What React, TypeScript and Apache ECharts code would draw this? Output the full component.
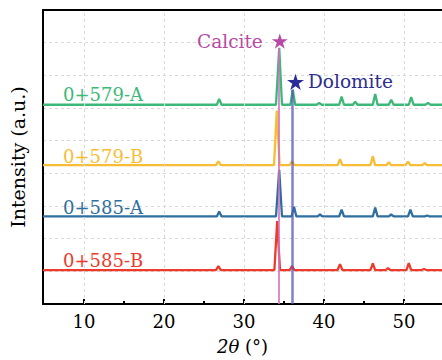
import React, { useEffect, useRef } from "react";
import * as echarts from "echarts";

const FONT = "DejaVu Serif";

const X_MIN = 4.875;
const X_MAX = 54.75;
const Y_MAX = 9;

const xTicks = [10, 20, 30, 40, 50];
const xMinorTicks = [15, 25, 35, 45];

const sampleNames = ["0+579-A", "0+579-B", "0+585-A", "0+585-B"];
const sampleColors = ["#3cb878", "#f8bd35", "#2f6f9f", "#ee3a2a"];
const sampleOffsets = [6.1, 4.25, 2.68, 1.04];
const labelY = [6.41, 4.53, 2.96, 1.33];
const labelX = 7.375;

// [2θ, relative intensity]
const green579A: number[][] = [
  [4.875, 0], [26.6, 0], [26.9, 0.18], [27.2, 0], [34.0, 0], [34.4, 1.74], [34.75, 0],
  [35.8, 0], [36.1, 0.46], [36.4, 0], [39.1, 0], [39.4, 0.06], [39.7, 0],
  [41.9, 0], [42.2, 0.25], [42.5, 0], [43.6, 0], [43.9, 0.09], [44.2, 0],
  [46.1, 0], [46.4, 0.33], [46.7, 0], [48.1, 0], [48.4, 0.15], [48.7, 0],
  [50.6, 0], [50.9, 0.23], [51.2, 0], [52.7, 0], [53.0, 0.06], [53.3, 0], [54.75, 0],
];
const yellow579B: number[][] = [
  [4.875, 0], [26.5, 0], [26.8, 0.12], [27.1, 0], [33.75, 0], [34.1, 1.67], [34.45, 0],
  [35.7, 0], [36.0, 0.12], [36.3, 0], [41.7, 0], [42.0, 0.18], [42.3, 0],
  [45.8, 0], [46.1, 0.27], [46.4, 0], [47.8, 0], [48.1, 0.09], [48.4, 0],
  [50.2, 0], [50.5, 0.11], [50.8, 0], [52.3, 0], [52.6, 0.06], [52.9, 0], [54.75, 0],
];
const blue585A: number[][] = [
  [4.875, 0], [26.6, 0], [26.9, 0.15], [27.2, 0], [34.0, 0], [34.4, 1.43], [34.75, 0],
  [35.95, 0], [36.25, 0.3], [36.55, 0], [39.2, 0], [39.5, 0.06], [39.8, 0],
  [41.9, 0], [42.2, 0.21], [42.5, 0], [46.1, 0], [46.4, 0.27], [46.7, 0],
  [48.1, 0], [48.4, 0.06], [48.7, 0], [50.5, 0], [50.8, 0.21], [51.1, 0],
  [52.6, 0], [52.9, 0.03], [53.2, 0], [54.75, 0],
];
const red585B: number[][] = [
  [4.875, 0], [26.5, 0], [26.8, 0.12], [27.1, 0], [33.8, 0], [34.15, 1.5], [34.5, 0],
  [35.7, 0], [36.0, 0.12], [36.3, 0], [41.7, 0], [42.0, 0.18], [42.3, 0],
  [45.8, 0], [46.1, 0.2], [46.4, 0], [47.7, 0], [48.0, 0.06], [48.3, 0],
  [50.3, 0], [50.6, 0.21], [50.9, 0], [52.2, 0], [52.5, 0.03], [52.8, 0], [54.75, 0],
];
const patterns = [green579A, yellow579B, blue585A, red585B];

const calcitePos = 34.375;
const calciteTop = 7.84;
const calciteStar = [34.475, 8.05];
const dolomitePos = 36.04;
const dolomiteTop = 6.56;
const dolomiteStar = [36.44, 6.8];

const STAR =
  "path://M50,0 L61.2,34.5 L97.6,34.5 L68.2,55.9 L79.4,90.5 L50,69.1 L20.6,90.5 L31.8,55.9 L2.4,34.5 L38.8,34.5 Z";

export default function App() {
  const ref = useRef<HTMLDivElement>(null);
  useEffect(() => {
    if (!ref.current) return;
    const chart = echarts.init(ref.current, null, { renderer: "svg" });
    const lineSeries = patterns.map((p, i) => ({
      type: "line",
      name: sampleNames[i],
      data: p.map((d) => [d[0], d[1] + sampleOffsets[i]]),
      showSymbol: false,
      symbol: "none",
      lineStyle: { color: sampleColors[i], width: 2.3 },
      z: 3,
      markPoint: {
        symbol: "circle",
        symbolSize: 0,
        silent: true,
        data: [{ coord: [labelX, labelY[i]], name: sampleNames[i] }],
        label: {
          show: true,
          position: "right",
          distance: 0,
          formatter: sampleNames[i],
          color: sampleColors[i],
          fontSize: 18,
          fontFamily: FONT,
        },
      },
    }));
    chart.setOption({
      animation: false,
      textStyle: { fontFamily: FONT },
      grid: { left: 43, right: 0, top: 10, bottom: 55, containLabel: false },
      xAxis: [
        {
          type: "value",
          min: X_MIN,
          max: X_MAX,
          position: "bottom",
          axisLine: { show: true, onZero: false, lineStyle: { color: "#000", width: 2 } },
          axisTick: {
            show: true,
            inside: true,
            length: 5,
            customValues: xTicks,
            lineStyle: { color: "#000", width: 2 },
          },
          axisLabel: {
            customValues: xTicks,
            fontSize: 18,
            color: "#000",
            fontFamily: FONT,
            margin: 8,
          },
          splitLine: { show: false },
          name: "{i|2θ} (°)",
          nameLocation: "middle",
          nameGap: 33,
          nameTextStyle: {
            fontSize: 18,
            color: "#000",
            fontFamily: FONT,
            rich: { i: { fontStyle: "italic", fontSize: 18, fontFamily: FONT, color: "#000" } },
          },
        },
        {
          type: "value",
          min: X_MIN,
          max: X_MAX,
          position: "bottom",
          axisLine: { show: false },
          axisTick: {
            show: true,
            inside: true,
            length: 3,
            customValues: xMinorTicks,
            lineStyle: { color: "#000", width: 2 },
          },
          axisLabel: { show: false },
          splitLine: { show: false },
        },
        {
          type: "value",
          min: X_MIN,
          max: X_MAX,
          position: "top",
          axisLine: { show: true, onZero: false, lineStyle: { color: "#000", width: 2 } },
          axisTick: { show: false },
          axisLabel: { show: false },
          splitLine: { show: false },
        },
      ],
      yAxis: {
        type: "value",
        min: 0,
        max: Y_MAX,
        interval: 1,
        axisLine: { show: true, onZero: false, lineStyle: { color: "#000", width: 2 } },
        axisTick: { show: false },
        axisLabel: { show: false },
        splitLine: { show: true, lineStyle: { color: "#d9d9d9", width: 1, type: [3, 3] } },
        name: "Intensity (a.u.)",
        nameLocation: "middle",
        nameGap: 16,
        nameTextStyle: { fontSize: 19, color: "#000", fontFamily: FONT },
      },
      series: [
        {
          type: "line",
          data: [],
          z: 1,
          markLine: {
            silent: true,
            symbol: "none",
            label: { show: false },
            lineStyle: { color: "#d9d9d9", width: 1, type: [3, 3] },
            data: xTicks.map((v) => ({ xAxis: v })),
          },
        },
        ...lineSeries,
        {
          type: "line",
          data: [],
          z: 5,
          markLine: {
            silent: true,
            symbol: "none",
            label: { show: false },
            data: [
              [
                { coord: [calcitePos, 0], lineStyle: { color: "#d070c0", width: 2, opacity: 0.8, type: "solid" } },
                { coord: [calcitePos, calciteTop] },
              ],
              [
                { coord: [dolomitePos, 0], lineStyle: { color: "#5656bb", width: 2.5, opacity: 0.75, type: "solid" } },
                { coord: [dolomitePos, dolomiteTop] },
              ],
            ],
          },
          markPoint: {
            silent: true,
            symbolKeepAspect: true,
            data: [
              {
                coord: calciteStar,
                symbol: STAR,
                symbolSize: 16,
                itemStyle: { color: "#b84aa6" },
                label: {
                  show: true,
                  position: "left",
                  distance: 9,
                  formatter: "Calcite",
                  color: "#b84aa6",
                  fontSize: 18.5,
                  fontFamily: FONT,
                },
              },
              {
                coord: dolomiteStar,
                symbol: STAR,
                symbolSize: 17,
                itemStyle: { color: "#2d2d99" },
                label: {
                  show: true,
                  position: "right",
                  distance: 4,
                  formatter: "Dolomite",
                  color: "#2d2d8e",
                  fontSize: 18.5,
                  fontFamily: FONT,
                },
              },
            ],
          },
        },
      ],
    });
    return () => chart.dispose();
  }, []);
  return (
    <div
      ref={ref}
      style={{ position: "absolute", left: 0, top: 0, width: 442, height: 360, background: "#fff" }}
    />
  );
}
